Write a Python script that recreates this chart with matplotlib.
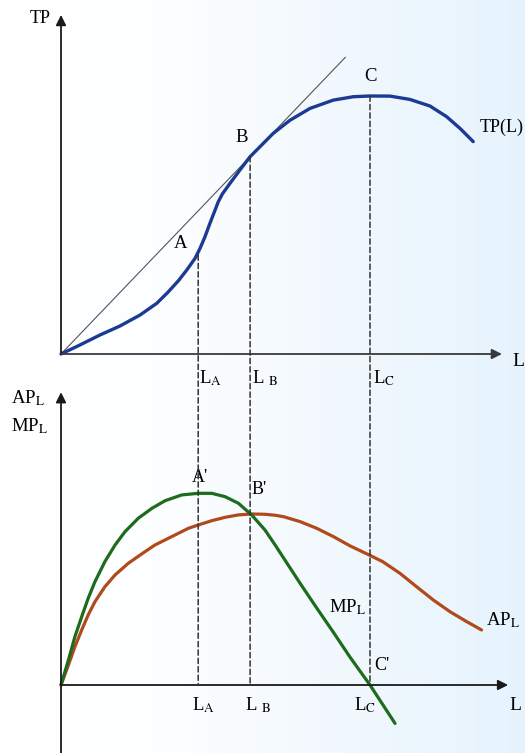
import numpy as np
import matplotlib
matplotlib.use("Agg")
import matplotlib.pyplot as plt
from matplotlib.colors import LinearSegmentedColormap
from matplotlib.patches import ConnectionPatch

plt.rcParams['font.family'] = ['Liberation Serif', 'DejaVu Serif']
plt.rcParams['mathtext.fontset'] = 'stix'

# total product curve TP(L)
tp_L = [0, 0.61, 1.26, 1.91, 2.56, 3.10, 3.45, 3.80, 4.07, 4.34, 4.50, 4.66, 4.82, 4.98,
        5.09, 5.22, 5.47, 5.79, 6.12, 6.44, 6.87, 7.41, 8.06, 8.81, 9.46, 10.0, 10.65, 11.29,
        11.94, 12.48, 12.91, 13.34]
tp_val = [0, 1.74, 3.68, 5.43, 7.56, 9.83, 11.9, 14.2, 16.28, 18.55, 20.48, 22.73, 25.33,
          27.8, 29.5, 31.0, 33.08, 35.66, 38.24, 40.17, 42.77, 45.3, 47.6, 49.2, 49.86, 50.0,
          49.98, 49.34, 48.06, 45.99, 43.74, 41.16]

# marginal product MP_L
mp_L = [0, 0.24, 0.45, 0.67, 0.88, 1.10, 1.42, 1.75, 2.07, 2.50, 2.94, 3.37, 3.91, 4.44,
        4.88, 5.31, 5.74, 6.17, 6.60, 6.93, 7.20, 7.74, 8.28, 8.82, 9.35, 10.0, 10.81]
mp_val = [0, 1.56, 3.02, 4.27, 5.42, 6.46, 7.71, 8.75, 9.58, 10.42, 11.04, 11.52, 11.88,
          11.98, 11.98, 11.77, 11.36, 10.63, 9.69, 8.75, 7.95, 6.35, 4.80, 3.28, 1.75, 0.0, -2.4]

# average product AP_L
ap_L = [0, 0.24, 0.45, 0.67, 0.88, 1.10, 1.42, 1.75, 2.18, 2.61, 3.04, 3.58, 4.12, 4.44,
        4.88, 5.31, 5.74, 6.17, 6.60, 6.93, 7.20, 7.74, 8.28, 8.82, 9.35, 10.0, 10.41,
        10.97, 11.51, 12.05, 12.59, 13.13, 13.61]
ap_val = [0, 1.25, 2.39, 3.44, 4.38, 5.21, 6.14, 6.88, 7.61, 8.19, 8.75, 9.27, 9.79, 10.0,
          10.27, 10.48, 10.63, 10.69, 10.67, 10.61, 10.52, 10.21, 9.79, 9.27, 8.70, 8.10,
          7.71, 6.98, 6.14, 5.31, 4.58, 3.96, 3.44]

# key points A, B, C on TP
key_L = [4.44, 6.12, 10.0]
key_tp = [19.2, 38.24, 50.0]
tangent_end = 9.2

fig = plt.figure(figsize=(5.25, 7.53), dpi=100)

# soft white-to-blue background
bg = fig.add_axes([0, 0, 1, 1], zorder=-5)
cmap = LinearSegmentedColormap.from_list('bg', [(0, '#ffffff'), (0.3, '#fdfeff'), (1, '#e6f3fd')])
bg.imshow(np.linspace(0, 1, 256)[None, :], aspect='auto', cmap=cmap, extent=[0, 1, 0, 1])
bg.axis('off')

ax1 = fig.add_axes([0, 0, 1, 1])
ax1.set_xlim(-61 / 30.9, 464 / 30.9)
ax1.set_ylim(-399 / 5.16, 354 / 5.16)
ax1.axis('off')

ax2 = fig.add_axes([0, 0, 1, 1])
ax2.set_xlim(-61 / 30.9, 464 / 30.9)
ax2.set_ylim(-68 / 16, 685 / 16)
ax2.axis('off')

arrow = dict(arrowstyle='-|>', mutation_scale=15, lw=1.3, color='#1a1a1a', shrinkA=0, shrinkB=0)

# top panel axes
ax1.annotate('', xy=(0, 65.7), xytext=(0, 0), arrowprops=arrow)
ax1.annotate('', xy=(14.27, 0), xytext=(0, 0), arrowprops=dict(arrow, color='#3a3a3a'))
ax1.plot([0, tangent_end], [0, tangent_end * key_tp[1] / key_L[1]], color='#555555', lw=0.8)
ax1.plot(tp_L, tp_val, color='#1b3a94', lw=2.4, solid_capstyle='round', solid_joinstyle='round')

# bottom panel axes
ax2.annotate('', xy=(0, 18.3), xytext=(0, -4.25), arrowprops=arrow)
ax2.annotate('', xy=(14.47, 0), xytext=(0, 0), arrowprops=arrow)
ax2.plot(ap_L, ap_val, color='#b04a1c', lw=2.3, solid_capstyle='round', solid_joinstyle='round')
ax2.plot(mp_L, mp_val, color='#1d6b1d', lw=2.3, solid_capstyle='round', solid_joinstyle='round')

# dashed drop lines from TP down to the lower L axis
for lx, ty in zip(key_L, key_tp):
    con = ConnectionPatch(xyA=(lx, ty), coordsA=ax1.transData,
                          xyB=(lx, 0), coordsB=ax2.transData,
                          linestyle=(0, (3.5, 2)), lw=1.1, color='#333333', zorder=1)
    fig.add_artist(con)

fs = 13.5
ax1.text(-0.68, 65.1, 'TP', fontsize=13, ha='center', va='center')
ax1.text(14.79, -1.55, 'L', fontsize=14, ha='center', va='center')
ax1.text(3.88, 21.5, 'A', fontsize=fs, ha='center', va='center')
ax1.text(5.86, 42.05, 'B', fontsize=fs, ha='center', va='center')
ax1.text(10.03, 53.7, 'C', fontsize=fs, ha='center', va='center')
ax1.text(13.56, 44.0, 'TP(L)', fontsize=13, ha='left', va='center')
ax1.text(4.47, -4.65, r'L$_\mathrm{A}$', fontsize=fs, ha='left', va='center')
ax1.text(6.18, -4.65, r'L $_\mathrm{B}$', fontsize=fs, ha='left', va='center')
ax1.text(10.1, -4.65, r'L$_\mathrm{C}$', fontsize=fs, ha='left', va='center')

ax2.text(-1.07, 17.94, r'AP$_\mathrm{L}$', fontsize=fs, ha='center', va='center')
ax2.text(-1.0, 16.19, r'MP$_\mathrm{L}$', fontsize=fs, ha='center', va='center')
ax2.text(4.5, 12.94, "A'", fontsize=13, ha='center', va='center')
ax2.text(6.18, 12.25, "B'", fontsize=13, ha='left', va='center')
ax2.text(9.29, 4.88, r'MP$_\mathrm{L}$', fontsize=fs, ha='center', va='center')
ax2.text(14.3, 4.06, r'AP$_\mathrm{L}$', fontsize=fs, ha='center', va='center')
ax2.text(10.39, 1.25, "C'", fontsize=13, ha='center', va='center')
ax2.text(4.6, -1.25, r'L$_\mathrm{A}$', fontsize=fs, ha='center', va='center')
ax2.text(6.38, -1.25, r'L $_\mathrm{B}$', fontsize=fs, ha='center', va='center')
ax2.text(9.84, -1.25, r'L$_\mathrm{C}$', fontsize=fs, ha='center', va='center')
ax2.text(14.72, -1.25, 'L', fontsize=14, ha='center', va='center')

fig.savefig('out.png', dpi=100)
